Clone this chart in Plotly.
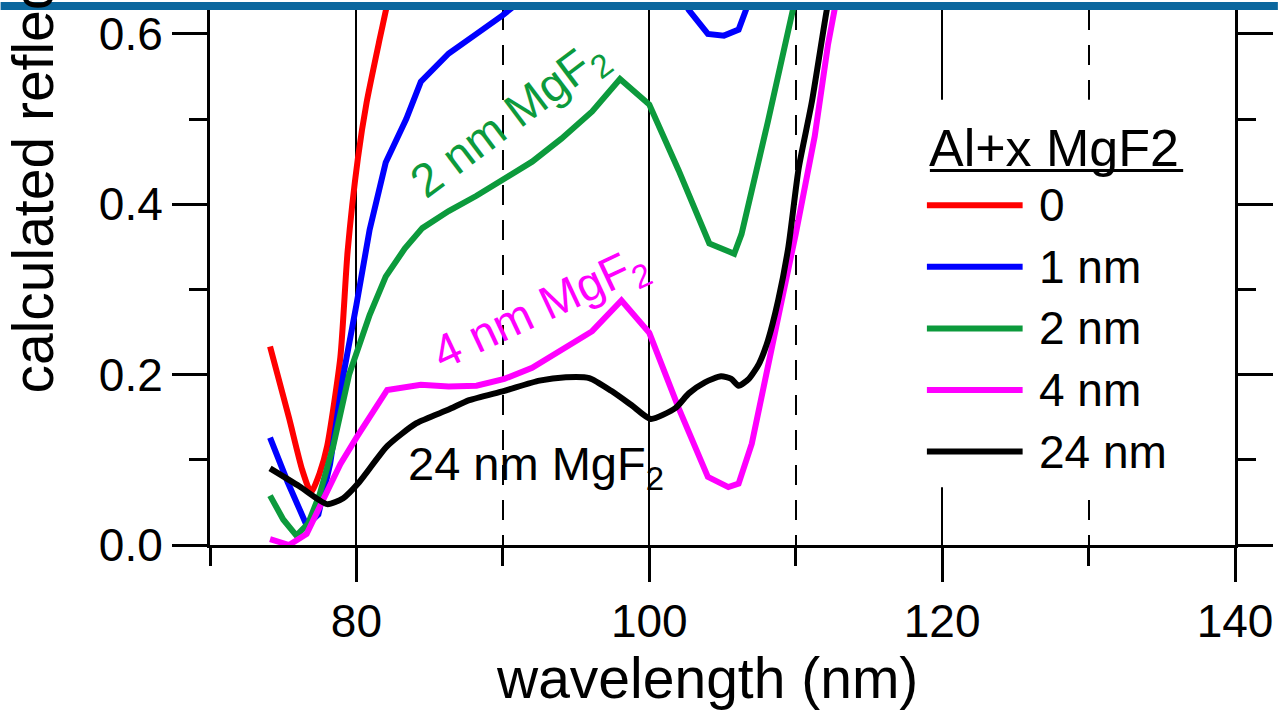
import plotly.graph_objects as go

# ---------------- data ----------------
wl_0 = [74.1, 75.4, 76.3, 76.9, 77.5, 78.0, 78.9, 79.4, 80.1, 80.7, 81.6, 82.1, 83.0]
R_0 = [0.233, 0.149, 0.088, 0.062, 0.085, 0.116, 0.22, 0.345, 0.454, 0.52, 0.595, 0.635, 0.72]

wl_1 = [74.1, 75.3, 76.6, 77.4, 78.2, 79.1, 80.0, 80.9, 82.0, 83.4, 84.4, 86.3, 88.2, 90.0,
        92.0, 96.0, 98.0, 100.0, 102.7, 104.0, 105.1, 106.1, 106.6, 108.0]
R_1 = [0.126, 0.074, 0.023, 0.036, 0.095, 0.199, 0.282, 0.37, 0.449, 0.50, 0.544, 0.577, 0.60, 0.622,
       0.65, 0.70, 0.73, 0.71, 0.628, 0.60, 0.598, 0.605, 0.628, 0.76]

wl_2 = [74.1, 75.0, 75.9, 76.7, 77.5, 78.4, 79.5, 80.9, 82.0, 83.3, 84.5, 86.3, 88.2, 90.0, 92.0,
        94.0, 96.1, 98.0, 100.0, 102.0, 104.1, 105.8, 106.3, 108.1, 109.7, 111.0]
R_2 = [0.058, 0.03, 0.011, 0.025, 0.06, 0.115, 0.20, 0.27, 0.315, 0.348, 0.372, 0.392, 0.41, 0.429, 0.45,
       0.477, 0.509, 0.547, 0.517, 0.44, 0.354, 0.342, 0.365, 0.497, 0.626, 0.72]

wl_4 = [74.1, 75.4, 76.6, 77.7, 78.9, 80.0, 80.9, 82.1, 84.4, 86.3, 88.2, 90.1, 92.0, 94.0, 96.1,
        98.1, 100.0, 102.0, 104.0, 105.4, 106.1, 107.0, 107.9, 108.8, 110.0, 111.3, 112.2, 113.0]
R_4 = [0.007, 0.0, 0.013, 0.053, 0.095, 0.126, 0.149, 0.182, 0.188, 0.186, 0.187, 0.195, 0.208, 0.228, 0.251,
       0.287, 0.249, 0.161, 0.08, 0.068, 0.072, 0.119, 0.189, 0.267, 0.365, 0.48, 0.587, 0.66]

wl_24 = [74.1, 76.1, 78.0, 79.1, 80.2, 82.1, 84.1, 86.3, 87.7, 90.1, 92.5, 94.3, 95.9, 97.4, 98.8,
         100.1, 101.8, 102.7, 103.8, 104.9, 105.6, 106.1, 106.8, 107.5, 108.1, 108.8, 109.5, 110.2,
         111.1, 112.1, 112.8]
R_24 = [0.09, 0.069, 0.048, 0.055, 0.074, 0.116, 0.143, 0.159, 0.17, 0.181, 0.193, 0.197, 0.196, 0.181, 0.164,
        0.148, 0.161, 0.178, 0.191, 0.198, 0.195, 0.187, 0.195, 0.213, 0.24, 0.287, 0.35, 0.442,
        0.52, 0.626, 0.69]

series_x = [wl_0, wl_1, wl_2, wl_4, wl_24]
series_y = [R_0, R_1, R_2, R_4, R_24]
series_names = ["0", "1 nm", "2 nm", "4 nm", "24 nm"]
series_colors = ["#ff0000", "#0000ff", "#0c9a3c", "#ff00ff", "#000000"]
series_shape = ["spline", "linear", "linear", "linear", "spline"]

x_major_ticks = [80, 100, 120, 140]
x_minor_ticks = [70, 90, 110, 130]
y_major_ticks = [0.0, 0.2, 0.4, 0.6]
y_tick_text = ["0.0", "0.2", "0.4", "0.6"]
y_minor_ticks = [0.1, 0.3, 0.5]

legend_title = "Al+x MgF2"
x_title = "wavelength (nm)"
y_title = "calculated reflectance"

# inline labels: (text, x, y, color, angle, anchor)
curve_labels = [
    ("2 nm MgF<sub>2</sub>", 90.5, 0.499, "#0c9a3c", -37, "center"),
    ("4 nm MgF<sub>2</sub>", 92.6, 0.276, "#ff00ff", -25, "center"),
    ("24 nm MgF<sub>2</sub>", 83.4, 0.092, "#000000", 0, "left"),
]

# ---------------- layout geometry ----------------
W, H = 1281, 710
ML, MR, MT, MB = 210, 43, 8, 165
PW, PH = W - ML - MR, H - MT - MB
FONT = "Liberation Sans, Arial, sans-serif"


def px(xp):
    return (xp - ML) / PW


def py(yp):
    return (H - MB - yp) / PH


fig = go.Figure()
for xs, ys, name, col, shp in zip(series_x, series_y, series_names, series_colors, series_shape):
    fig.add_trace(go.Scatter(x=xs, y=ys, mode="lines", name=name,
                             line=dict(color=col, width=6, shape=shp, smoothing=0.6),
                             showlegend=False, hoverinfo="skip"))

shapes = []
annotations = []

# blue bar at top
shapes.append(dict(type="rect", xref="paper", yref="paper", x0=px(0), x1=px(W),
                   y0=1.0, y1=py(0), fillcolor="#0b679e", line=dict(width=0), layer="above"))

# legend box (covers gridlines)
shapes.append(dict(type="rect", xref="paper", yref="paper", x0=px(912), x1=px(1210),
                   y0=py(487), y1=py(98), fillcolor="white", line=dict(width=0), layer="above"))

# legend title + underline
annotations.append(dict(text=legend_title, xref="paper", yref="paper", x=px(929), y=py(147),
                        xanchor="left", yanchor="middle", showarrow=False,
                        font=dict(family=FONT, size=52, color="black")))
shapes.append(dict(type="line", xref="paper", yref="paper", x0=px(932), x1=px(1186),
                   y0=py(169), y1=py(169), line=dict(color="black", width=3), layer="above"))

row0, row_step = 204, 61.8
for i, (name, col) in enumerate(zip(series_names, series_colors)):
    yc = row0 + i * row_step
    shapes.append(dict(type="line", xref="paper", yref="paper", x0=px(929), x1=px(1025),
                       y0=py(yc), y1=py(yc), line=dict(color=col, width=6), layer="above"))
    annotations.append(dict(text=name, xref="paper", yref="paper", x=px(1039), y=py(yc),
                            xanchor="left", yanchor="middle", showarrow=False,
                            font=dict(family=FONT, size=46, color="black")))

for txt, lx, ly, col, ang, anc in curve_labels:
    annotations.append(dict(text=txt, x=lx, y=ly, xref="x", yref="y", xanchor=anc, yanchor="middle",
                            textangle=ang, showarrow=False,
                            font=dict(family=FONT, size=47, color=col)))

# axis titles
annotations.append(dict(text=x_title, xref="paper", yref="paper", x=px(708), y=py(678),
                        xanchor="center", yanchor="middle", showarrow=False,
                        font=dict(family=FONT, size=57, color="black")))
annotations.append(dict(text=y_title, xref="paper", yref="paper", x=px(33), y=py(395),
                        xanchor="center", yanchor="bottom", textangle=-90, showarrow=False,
                        font=dict(family=FONT, size=57, color="black")))

fig.update_layout(
    width=W, height=H,
    margin=dict(l=ML, r=MR, t=MT, b=MB, pad=0),
    paper_bgcolor="white", plot_bgcolor="white",
    showlegend=False,
    shapes=shapes, annotations=annotations,
    xaxis=dict(range=[70, 140], tickmode="array", tickvals=x_major_ticks,
               ticks="outside", ticklen=34, tickwidth=2.5, tickcolor="black",
               showline=True, linewidth=3, linecolor="black", mirror=False,
               showgrid=True, gridcolor="black", gridwidth=1.5, zeroline=False,
               tickfont=dict(family=FONT, size=46, color="black"),
               minor=dict(tickmode="array", tickvals=x_minor_ticks, ticks="outside", ticklen=18,
                          tickwidth=2.5, tickcolor="black", showgrid=True, gridcolor="black",
                          gridwidth=1.5, griddash="20px,15px")),
    yaxis=dict(range=[0, 0.6 + 24 / 855], tickmode="array", tickvals=y_major_ticks, ticktext=y_tick_text,
               ticks="outside", ticklen=35, tickwidth=2.5, tickcolor="black",
               showline=True, linewidth=3, linecolor="black", mirror="ticks",
               showgrid=False, zeroline=False,
               tickfont=dict(family=FONT, size=46, color="black"),
               minor=dict(tickmode="array", tickvals=y_minor_ticks, ticks="outside", ticklen=18,
                          tickwidth=2.5, tickcolor="black", showgrid=False)),
)

fig.write_html("out.html")
